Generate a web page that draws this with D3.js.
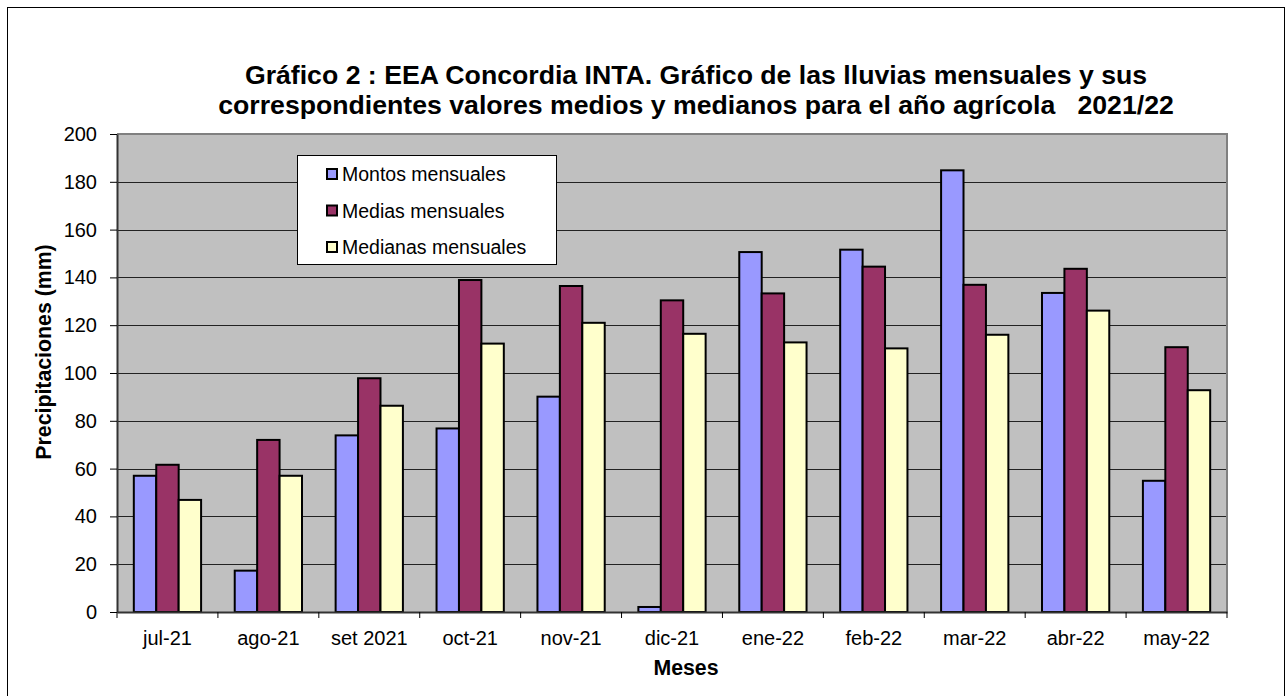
<!DOCTYPE html>
<html>
<head>
<meta charset="utf-8">
<script src="https://cdn.jsdelivr.net/npm/d3@7"></script>
<style>
  html, body { margin: 0; padding: 0; background: #fff; }
  svg { display: block; font-family: Arial, "Liberation Sans", sans-serif; }
</style>
</head>
<body>
<svg id="chart" width="1287" height="696"></svg>
<script>
const categories = ["jul-21", "ago-21", "set 2021", "oct-21", "nov-21", "dic-21", "ene-22", "feb-22", "mar-22", "abr-22", "may-22"];
const montos   = [57, 17.3, 73.9, 76.8, 90.1, 2.1, 150.6, 151.6, 184.8, 133.5, 54.9];
const medias   = [61.6, 72, 97.8, 138.9, 136.4, 130.4, 133.3, 144.5, 136.9, 143.6, 110.8];
const medianas = [46.9, 57, 86.3, 112.3, 121, 116.4, 112.8, 110.3, 116, 126.1, 92.8];
const seriesNames = ["Montos mensuales", "Medias mensuales", "Medianas mensuales"];
const seriesColors = ["#9999FF", "#993366", "#FFFFCC"];
const yTicks = [0, 20, 40, 60, 80, 100, 120, 140, 160, 180, 200];
const titleLines = ["Gráfico 2 : EEA Concordia INTA. Gráfico de las lluvias mensuales y sus",
                    "correspondientes valores medios y medianos para el año agrícola   2021/22"];

const FONT = "Arial, 'Liberation Sans', sans-serif";
const seriesData = [montos, medias, medianas];
const svg = d3.select("#chart");

// outer border
svg.append("rect").attr("x", 7.5).attr("y", 7.5).attr("width", 1277).attr("height", 700)
  .attr("fill", "#fff").attr("stroke", "#000").attr("stroke-width", 1);

const L = 117, R = 1227, T = 134, B = 612;
const x = d3.scaleBand().domain(categories).range([L, R]).paddingInner(0).paddingOuter(0);
const xs = d3.scaleBand().domain(d3.range(3)).range([0, x.bandwidth()]).paddingInner(0).paddingOuter(0.75);
const y = d3.scaleLinear().domain([0, 200]).range([B, T]);

// plot background
svg.append("rect").attr("x", L).attr("y", T).attr("width", R - L).attr("height", B - T).attr("fill", "#C0C0C0");

// gridlines
svg.append("g").selectAll("line").data(yTicks.filter(d => d > 0 && d < 200)).join("line")
  .attr("x1", L).attr("x2", R).attr("y1", d => Math.round(y(d)) + 0.5).attr("y2", d => Math.round(y(d)) + 0.5)
  .attr("stroke", "#222").attr("stroke-width", 1);

// plot border top/right
svg.append("path").attr("d", `M${L},${T} H${R} V${B}`).attr("fill", "none").attr("stroke", "#808080").attr("stroke-width", 2);

// bars
const groups = svg.append("g").selectAll("g").data(categories).join("g")
  .attr("transform", d => `translate(${x(d)},0)`);
groups.selectAll("rect").data((d, i) => seriesData.map((s, k) => ({k, v: s[i]}))).join("rect")
  .attr("x", d => xs(d.k)).attr("width", xs.bandwidth())
  .attr("y", d => y(d.v)).attr("height", d => y(0) - y(d.v))
  .attr("fill", d => seriesColors[d.k]).attr("stroke", "#000").attr("stroke-width", 2);

// y axis
const yAxis = d3.axisLeft(y).tickValues(yTicks).tickSize(7).tickPadding(13).tickSizeOuter(0);
const gy = svg.append("g").attr("transform", `translate(${L},0)`).call(yAxis);
gy.attr("font-family", FONT).attr("font-size", 20);
gy.select(".domain").attr("stroke", "#333").attr("stroke-width", 2);
gy.selectAll(".tick line").attr("stroke", "#000");
gy.selectAll("text").attr("fill", "#000");

// x axis
const xAxis = d3.axisBottom(x).tickSize(0).tickPadding(19).tickSizeOuter(0);
const gx = svg.append("g").attr("transform", `translate(0,${B})`).call(xAxis);
gx.attr("font-family", FONT).attr("font-size", 20);
gx.select(".domain").attr("stroke", "#333").attr("stroke-width", 2);
gx.selectAll("text").attr("fill", "#000");
// category boundary ticks
svg.append("g").selectAll("line").data(d3.range(categories.length + 1)).join("line")
  .attr("x1", i => L + i * x.step()).attr("x2", i => L + i * x.step())
  .attr("y1", B).attr("y2", B + 6).attr("stroke", "#000");

// axis titles
svg.append("text").attr("transform", "translate(51,352) rotate(-90)").attr("text-anchor", "middle")
  .attr("font-size", 21.3).attr("font-weight", "bold").text("Precipitaciones (mm)");
svg.append("text").attr("x", 686).attr("y", 675).attr("text-anchor", "middle")
  .attr("font-size", 21.3).attr("font-weight", "bold").text("Meses");

// title
svg.append("g").selectAll("text").data(titleLines).join("text")
  .attr("x", 696).attr("y", (d, i) => 84 + i * 30).attr("text-anchor", "middle")
  .attr("font-size", 26.67).attr("font-weight", "bold").attr("xml:space", "preserve")
  .style("white-space", "pre").text(d => d);

// legend
const lg = svg.append("g");
lg.append("rect").attr("x", 297.5).attr("y", 155.5).attr("width", 259).attr("height", 109)
  .attr("fill", "#fff").attr("stroke", "#000").attr("stroke-width", 1);
const items = lg.selectAll("g.item").data(seriesNames).join("g").attr("class", "item")
  .attr("transform", (d, i) => `translate(327,${174 + i * 36.5})`);
items.append("rect").attr("x", 0).attr("y", -5).attr("width", 10).attr("height", 10)
  .attr("fill", (d, i) => seriesColors[i]).attr("stroke", "#000").attr("stroke-width", 2);
items.append("text").attr("x", 15).attr("y", 7).attr("font-size", 19.5).text(d => d);
</script>
</body>
</html>
